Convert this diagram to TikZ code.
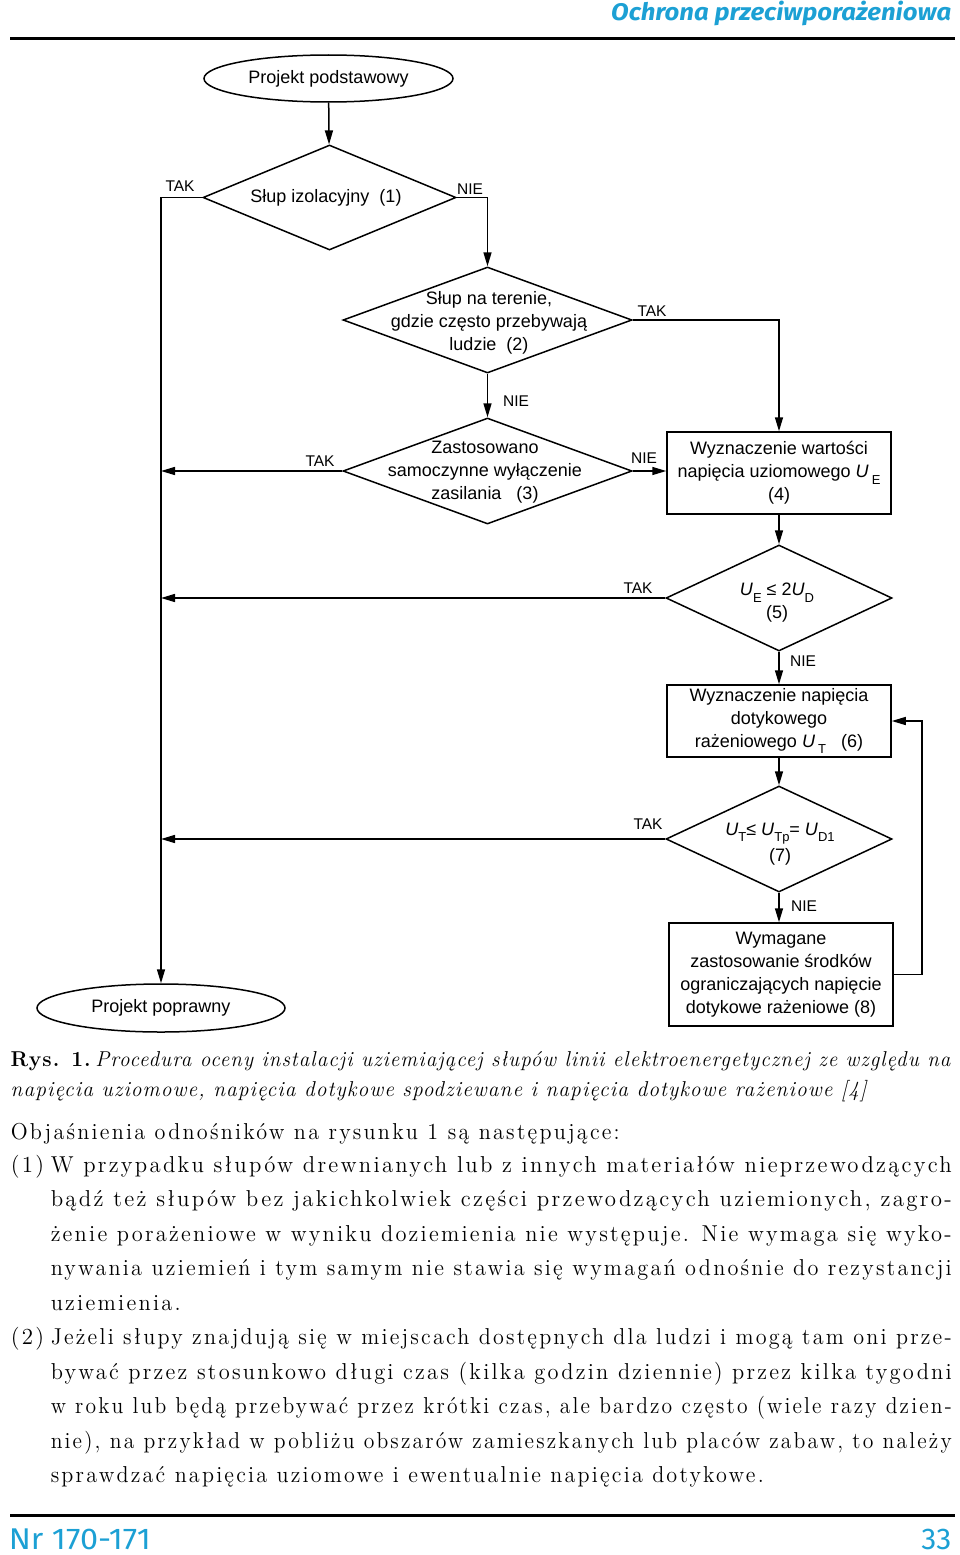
\documentclass[tikz,border=0pt]{standalone}
\usepackage{fontspec}
\usepackage{graphicx}
\usetikzlibrary{shapes.geometric,arrows.meta,calc}
\newfontfamily\diag{Liberation Sans}
\newfontfamily\headfont{Fira Sans}
\newfontfamily\bodyfont{lmroman12-regular.otf}[LetterSpace=10,BoldFont=lmroman12-bold.otf,ItalicFont=lmroman12-italic.otf]
\newfontfamily\captfont{lmroman12-regular.otf}[LetterSpace=5,BoldFont=lmroman12-bold.otf,ItalicFont=lmroman12-italic.otf]
\definecolor{hdr}{RGB}{28,160,212}
\newsavebox\jbox
\newcommand\jl[2]{\sbox\jbox{#2}\ifdim\wd\jbox>#1\relax\resizebox{#1}{\height}{\usebox\jbox}\else\makebox[#1][s]{#2}\fi}
\newcommand\sbs[1]{\raisebox{-0.35em}{\fontsize{13}{13}\selectfont #1}}
\begin{document}
\begin{tikzpicture}[x=1pt,y=-1pt,line width=1.5pt,
  arr/.style={-{Triangle[length=14pt,width=8pt]}},
  dia/.style={diamond,draw,inner sep=0pt},
  box/.style={rectangle,draw,inner sep=0pt,align=center,font=\diag\fontsize{18}{23}\selectfont},
  ell/.style={ellipse,draw,inner sep=0pt,font=\diag\fontsize{18}{22}\selectfont},
  dtxt/.style={align=center,inner sep=0pt,font=\diag\fontsize{18}{23}\selectfont},
  lbl/.style={inner sep=0pt,font=\diag\fontsize{15.5}{16}\selectfont},
  body/.style={anchor=base west,inner sep=0pt,font=\bodyfont\fontsize{23}{23}\selectfont},
  capt/.style={anchor=base west,inner sep=0pt,font=\captfont\fontsize{21.5}{22}\selectfont}]
\useasboundingbox (0,0) rectangle (960,1555);
% header
\node[anchor=base east,inner sep=0pt,text=hdr] (hd) at (952,21)
  {\resizebox{340pt}{\height}{\headfont\bfseries\itshape\fontsize{24}{24}\selectfont Ochrona przeciwporażeniowa}};
\draw[line width=3pt] (10,39) -- (955,39);
% flowchart nodes
\node[ell,minimum width=249pt,minimum height=47pt] (e1) at (328.5,78.5) {Projekt podstawowy};
\node[dia,minimum width=253pt,minimum height=105pt] (d1) at (329.5,197.5) {};
\node[dtxt] (t1) at (326,198) {Słup izolacyjny\ \ (1)};
\node[dia,minimum width=289pt,minimum height=106pt] (d2) at (487.5,320) {};
\node[dtxt] (t2) at (489,323) {Słup na terenie,\\gdzie często przebywają\\ludzie\ \ (2)};
\node[dia,minimum width=289pt,minimum height=106pt] (d3) at (487.5,471) {};
\node[dtxt] (t3) at (485,472) {Zastosowano\\samoczynne wyłączenie\\zasilania\ \ \ (3)};
\node[box,minimum width=224pt,minimum height=82pt] (b4) at (779,473) {Wyznaczenie wartości\\napięcia uziomowego \textit{U}\,\sbs{E}\\(4)};
\node[dia,minimum width=226pt,minimum height=106pt] (d5) at (779,598) {};
\node[dtxt] (t5) at (777,603) {\textit{U}\sbs{E} ≤ 2\textit{U}\sbs{D}\\(5)};
\node[box,minimum width=224pt,minimum height=72pt] (b6) at (779,721) {Wyznaczenie napięcia\\dotykowego\\rażeniowego \textit{U}\,\sbs{T}\ \ \ (6)};
\node[dia,minimum width=226pt,minimum height=106pt] (d7) at (779,839) {};
\node[dtxt] (t7) at (780,844) {\textit{U}\sbs{T}≤ \textit{U}\sbs{Tp}= \textit{U}\sbs{D1}\\[3pt](7)};
\node[box,minimum width=224pt,minimum height=103pt] (b8) at (781,974.5) {Wymagane\\zastosowanie środków\\ograniczających napięcie\\dotykowe rażeniowe (8)};
\node[ell,minimum width=248pt,minimum height=48pt] (e2) at (161,1008) {Projekt poprawny};
\coordinate (vl) at (161,600);
\coordinate (fb) at (922,850);
% labels
\node[lbl] (l1) at (180,186) {TAK};
\node[lbl] (l2) at (470,189) {NIE};
\node[lbl] (l3) at (652,311) {TAK};
\node[lbl] (l4) at (516,401) {NIE};
\node[lbl] (l5) at (320,461) {TAK};
\node[lbl] (l6) at (644,458) {NIE};
\node[lbl] (l7) at (638,588) {TAK};
\node[lbl] (l8) at (803,661) {NIE};
\node[lbl] (l9) at (648,824) {TAK};
\node[lbl] (l10) at (804,906) {NIE};
% connectors
\draw[arr] (e1) -- (d1);
\draw[arr] (d1.west) -| (e2.north);
\draw[arr] (d1.east) -| (d2.north);
\draw[arr] (d2.east) -| (b4.north);
\draw[arr] (d2.south) -- (d3.north);
\draw[arr] (d3.west) -- (d3.west -| vl);
\draw[arr] (d3.east) -- (d3.east -| b4.west);
\draw[arr] (b4.south) -- (d5.north);
\draw[arr] (d5.west) -- (d5.west -| vl);
\draw[arr] (d5.south) -- (b6.north);
\draw[arr] (b6.south) -- (d7.north);
\draw[arr] (d7.west) -- (d7.west -| vl);
\draw[arr] (d7.south) -- (d7.south |- b8.north);
\draw[arr] (b8.east) -| (fb) |- (b6.east);
% caption
\node[capt] (c1) at (10,1066) {\jl{941pt}{\textbf{Rys. 1.}\,\textit{Procedura oceny instalacji uziemiającej słupów linii elektroenergetycznej ze względu na}}};
\node[capt] (c2) at (10,1096) {\jl{858pt}{\textit{napięcia uziomowe, napięcia dotykowe spodziewane i napięcia dotykowe rażeniowe [4]}}};
% body
\node[body] (p0) at (10,1139) {\jl{609pt}{Objaśnienia odnośników na rysunku 1 są następujące:}};
\node[body] (n1) at (10,1172) {(1)};
\node[body] (p1) at (50,1172) {\jl{901pt}{W przypadku słupów drewnianych lub z innych materiałów nieprzewodzących}};
\node[body] (p2) at (50,1206.5) {\jl{901pt}{bądź też słupów bez jakichkolwiek części przewodzących uziemionych, zagro-}};
\node[body] (p3) at (50,1241) {\jl{901pt}{żenie porażeniowe w wyniku doziemienia nie występuje. Nie wymaga się wyko-}};
\node[body] (p4) at (50,1275.5) {\jl{901pt}{nywania uziemień i tym samym nie stawia się wymagań odnośnie do rezystancji}};
\node[body] (p5) at (50,1310) {\jl{130pt}{uziemienia.}};
\node[body] (n2) at (10,1344.5) {(2)};
\node[body] (p6) at (50,1344.5) {\jl{901pt}{Jeżeli słupy znajdują się w miejscach dostępnych dla ludzi i mogą tam oni prze-}};
\node[body] (p7) at (50,1379) {\jl{901pt}{bywać przez stosunkowo długi czas (kilka godzin dziennie) przez kilka tygodni}};
\node[body] (p8) at (50,1413.5) {\jl{901pt}{w roku lub będą przebywać przez krótki czas, ale bardzo często (wiele razy dzien-}};
\node[body] (p9) at (50,1448) {\jl{901pt}{nie), na przykład w pobliżu obszarów zamieszkanych lub placów zabaw, to należy}};
\node[body] (p10) at (50,1482.5) {\jl{713pt}{sprawdzać napięcia uziomowe i ewentualnie napięcia dotykowe.}};
% footer
\draw[line width=3pt] (10,1515) -- (955,1515);
\node[anchor=base west,inner sep=0pt,text=hdr] (f1) at (8,1549)
  {\resizebox{142pt}{\height}{\headfont\fontsize{30}{30}\selectfont Nr 170-171}};
\node[anchor=base east,inner sep=0pt,text=hdr] (f2) at (952,1549)
  {\resizebox{30pt}{\height}{\headfont\fontsize{30}{30}\selectfont 33}};
\end{tikzpicture}
\end{document}
